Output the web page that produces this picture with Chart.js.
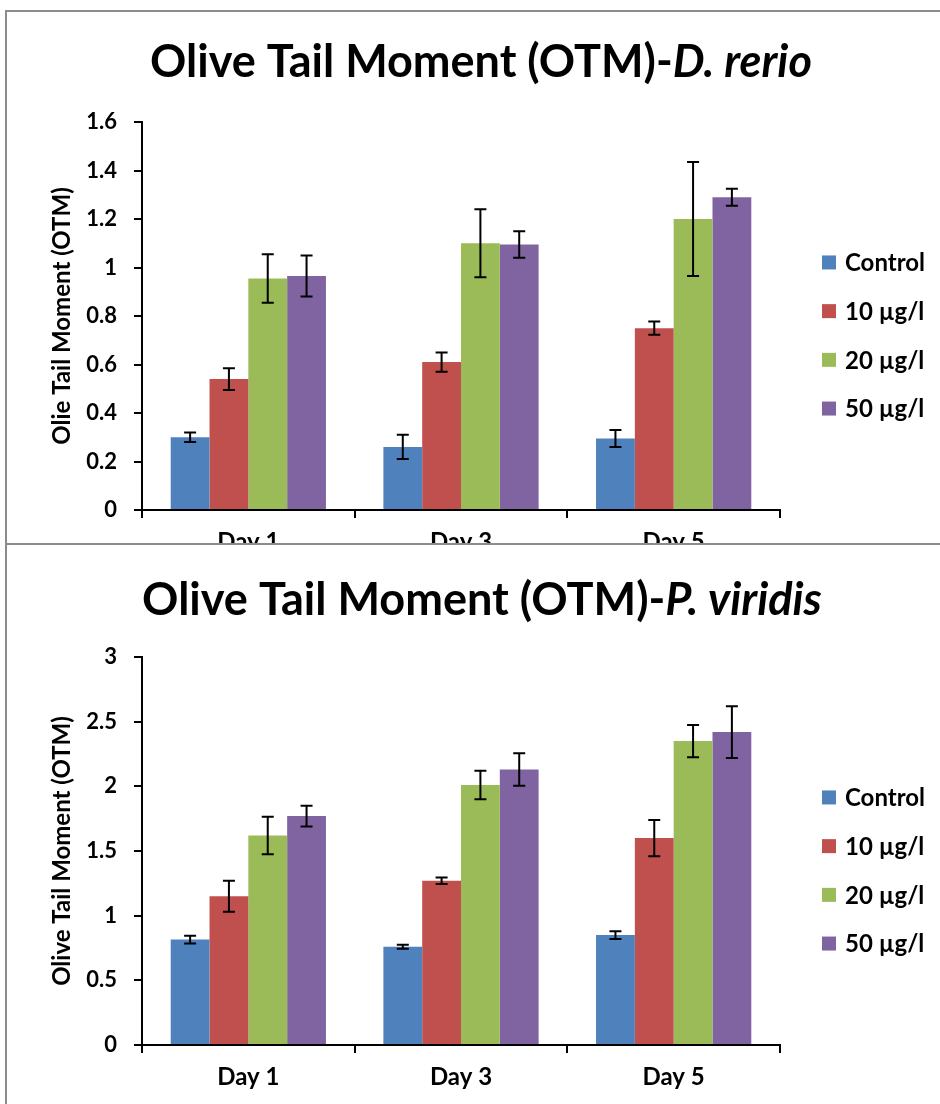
<!DOCTYPE html>
<html>
<head>
<meta charset="utf-8">
<script src="https://cdn.jsdelivr.net/npm/chart.js@4.4.1/dist/chart.umd.min.js"></script>
<style>
  body { margin: 0; background: #fff; width: 940px; height: 1104px; overflow: hidden; position: relative; }
  .panel { position: absolute; left: 5px; width: 940px; height: 620px; background: #fff;
           border-top: 2px solid #8c8c8c; border-left: 2px solid #8c8c8c; overflow: hidden; }
  #p1 { top: 10px; }
  #p2 { top: 543px; z-index: 2; }
  canvas { display: block; }
</style>
</head>
<body>
<div class="panel" id="p1"><canvas id="rerioChart" width="933" height="580"></canvas></div>
<div class="panel" id="p2"><canvas id="viridisChart" width="933" height="559"></canvas></div>
<script>
// categories and series
var days = ["Day 1", "Day 3", "Day 5"];
var seriesNames = ["Control", "10 µg/l", "20 µg/l", "50 µg/l"];

// D. rerio means and error bars
var rerioControl = [0.30, 0.26, 0.295];
var rerio10 = [0.54, 0.61, 0.75];
var rerio20 = [0.955, 1.10, 1.20];
var rerio50 = [0.965, 1.095, 1.29];
var rerioControlErr = [0.02, 0.05, 0.035];
var rerio10Err = [0.045, 0.04, 0.027];
var rerio20Err = [0.10, 0.14, 0.235];
var rerio50Err = [0.085, 0.055, 0.035];

// P. viridis means and error bars
var viridisControl = [0.815, 0.76, 0.85];
var viridis10 = [1.15, 1.27, 1.60];
var viridis20 = [1.62, 2.01, 2.35];
var viridis50 = [1.77, 2.13, 2.42];
var viridisControlErr = [0.03, 0.015, 0.03];
var viridis10Err = [0.12, 0.025, 0.14];
var viridis20Err = [0.145, 0.11, 0.125];
var viridis50Err = [0.08, 0.125, 0.2];

// y axis ranges
var rerioMax = 1.6, rerioStep = 0.2;
var viridisMax = 3, viridisStep = 0.5;

var colors = ["#4f81bd", "#c0504d", "#9bbb59", "#8064a2"];
var FONT = "Lato";

var errorBars = {
  id: "errorBars",
  afterDatasetsDraw: function(chart) {
    var ctx = chart.ctx, y = chart.scales.y;
    ctx.save();
    ctx.strokeStyle = "#000";
    ctx.lineWidth = 2;
    chart.data.datasets.forEach(function(ds, i) {
      chart.getDatasetMeta(i).data.forEach(function(bar, j) {
        var v = ds.data[j], e = ds.errors[j];
        var top = y.getPixelForValue(v + e), bot = y.getPixelForValue(v - e);
        var x = bar.x, c = 6;
        ctx.beginPath();
        ctx.moveTo(x, top); ctx.lineTo(x, bot);
        ctx.moveTo(x - c, top); ctx.lineTo(x + c, top);
        ctx.moveTo(x - c, bot); ctx.lineTo(x + c, bot);
        ctx.stroke();
      });
    });
    ctx.restore();
  }
};

// title with an italic species name, sized to a given width
var mixedTitle = {
  id: "mixedTitle",
  afterDraw: function(chart, args, opts) {
    var ctx = chart.ctx;
    ctx.save();
    ctx.font = "bold 40px " + FONT;
    var a = ctx.measureText(opts.main).width;
    ctx.font = "italic bold 40px " + FONT;
    var b = ctx.measureText(opts.italic).width;
    var size = 40 * opts.width / (a + b);
    ctx.fillStyle = "#000";
    ctx.textBaseline = "middle";
    ctx.font = "bold " + size + "px " + FONT;
    var w1 = ctx.measureText(opts.main).width;
    ctx.font = "italic bold " + size + "px " + FONT;
    var w2 = ctx.measureText(opts.italic).width;
    var x = opts.cx - (w1 + w2) / 2;
    ctx.font = "bold " + size + "px " + FONT;
    ctx.fillText(opts.main, x, opts.cy);
    ctx.font = "italic bold " + size + "px " + FONT;
    ctx.fillText(opts.italic, x + w1, opts.cy);
    ctx.restore();
  }
};

var sideLegend = {
  id: "sideLegend",
  afterDraw: function(chart, args, opts) {
    var ctx = chart.ctx, area = chart.chartArea;
    var x = area.right + 42;
    var y0 = (area.top + area.bottom) / 2 + 19.5 - 1.5 * opts.gap;
    ctx.save();
    ctx.font = "bold 24px " + FONT;
    ctx.textBaseline = "middle";
    chart.data.datasets.forEach(function(ds, i) {
      var y = y0 + i * opts.gap;
      ctx.fillStyle = ds.backgroundColor;
      ctx.fillRect(x, y - 7, 14, 14);
      ctx.fillStyle = "#000";
      ctx.fillText(ds.label, x + 23, y + 1);
    });
    ctx.restore();
  }
};

function makeChart(id, means, errs, yMax, step, title, yTitle, xHeight, top) {
  return new Chart(document.getElementById(id), {
    type: "bar",
    data: {
      labels: days,
      datasets: seriesNames.map(function(name, i) {
        return {
          label: name,
          data: means[i],
          errors: errs[i],
          backgroundColor: colors[i],
          borderWidth: 0,
          barPercentage: 1,
          categoryPercentage: 0.73
        };
      })
    },
    options: {
      responsive: false,
      animation: false,
      layout: { padding: { top: top, right: 160, bottom: 0, left: 0 } },
      plugins: {
        legend: { display: false },
        tooltip: { enabled: false },
        mixedTitle: title,
        sideLegend: { gap: 48.7 }
      },
      scales: {
        x: {
          grid: { drawOnChartArea: false, drawTicks: true, tickLength: 8, color: "#000", lineWidth: 2 },
          border: { color: "#000", width: 2 },
          ticks: { color: "#000", padding: 10, font: { family: FONT, size: 24, weight: "bold" } },
          afterFit: function(s) { s.height = xHeight; }
        },
        y: {
          min: 0,
          max: yMax,
          ticks: {
            stepSize: step,
            color: "#000",
            padding: 17,
            font: { family: FONT, size: 22, weight: "bold" },
            callback: function(v) { return String(+v.toFixed(2)); }
          },
          grid: { drawOnChartArea: false, drawTicks: true, tickLength: 8, color: "#000", lineWidth: 2 },
          border: { color: "#000", width: 2 },
          title: {
            display: true,
            text: yTitle,
            color: "#000",
            padding: { top: 41, bottom: 0 },
            font: { family: FONT, size: 24, weight: "bold" }
          },
          afterFit: function(s) { s.width = 135; }
        }
      }
    },
    plugins: [errorBars, mixedTitle, sideLegend]
  });
}

makeChart("rerioChart",
  [rerioControl, rerio10, rerio20, rerio50],
  [rerioControlErr, rerio10Err, rerio20Err, rerio50Err],
  rerioMax, rerioStep,
  { main: "Olive Tail Moment (OTM)-", italic: "D. rerio", cx: 474, cy: 50, width: 662 },
  "Olie Tail Moment (OTM)", 82, 110);

makeChart("viridisChart",
  [viridisControl, viridis10, viridis20, viridis50],
  [viridisControlErr, viridis10Err, viridis20Err, viridis50Err],
  viridisMax, viridisStep,
  { main: "Olive Tail Moment (OTM)-", italic: "P. viridis", cx: 475, cy: 55, width: 680 },
  "Olive Tail Moment (OTM)", 59, 112);
</script>
</body>
</html>
